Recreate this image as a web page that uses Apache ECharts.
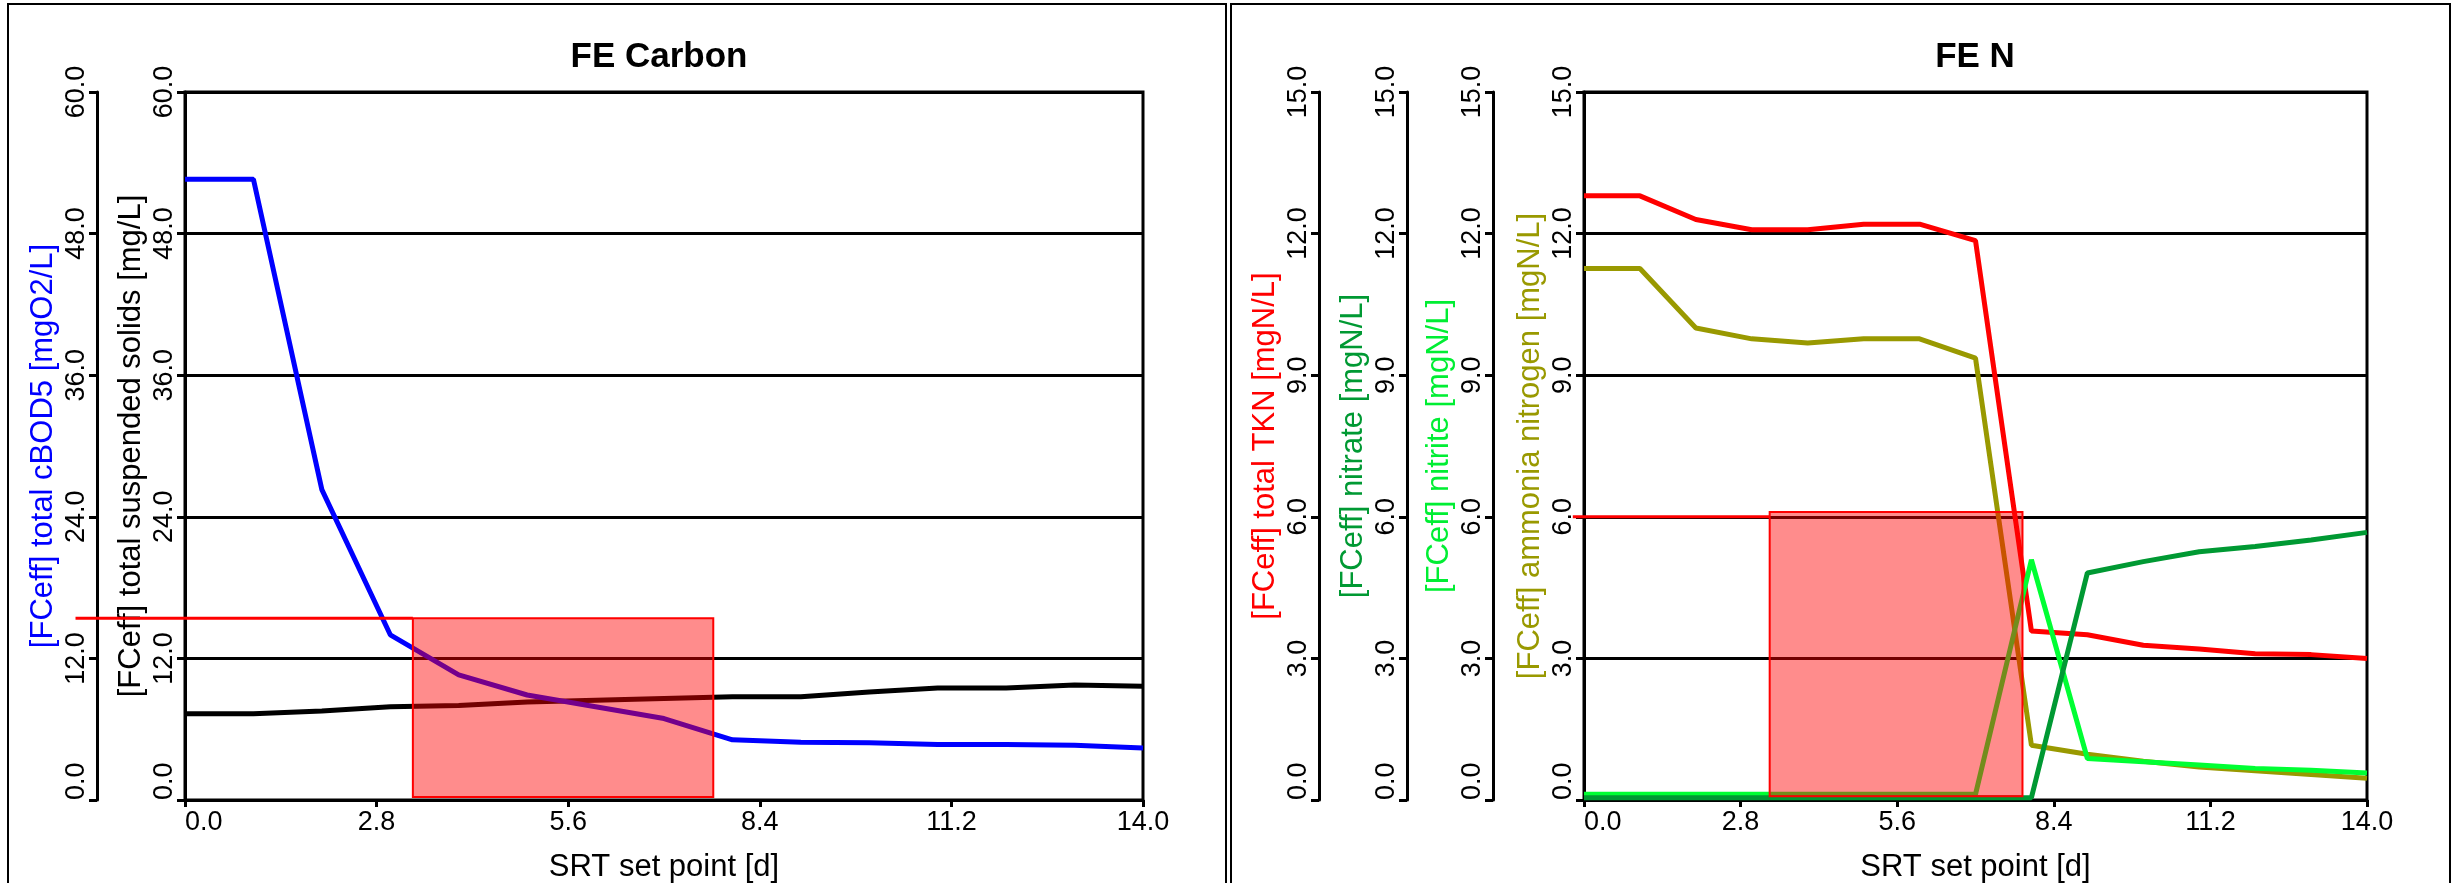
<!DOCTYPE html>
<html><head><meta charset="utf-8">
<script src="https://cdn.jsdelivr.net/npm/echarts@6/dist/echarts.min.js"></script>
<style>html,body{margin:0;padding:0;background:#fff}#c{width:2453px;height:883px}</style>
</head><body><div id="c"></div>
<script>
// ---- data ----
const srt = [0,1,2,3,4,5,6,7,8,9,10,11,12,13,14];
// FE Carbon
const cbod = [52.6,52.6,26.3,14.0,10.6,8.9,7.9,6.9,5.1,4.9,4.85,4.7,4.7,4.65,4.4];
const tss  = [7.3,7.3,7.55,7.9,8.0,8.3,8.45,8.6,8.75,8.75,9.15,9.5,9.5,9.75,9.65];
// FE N
const tkn     = [12.8,12.8,12.3,12.08,12.08,12.2,12.2,11.85,3.58,3.5,3.28,3.2,3.1,3.08,3.0];
const nitrate = [0.05,0.05,0.05,0.05,0.05,0.05,0.05,0.05,0.05,4.81,5.05,5.26,5.37,5.51,5.67];
const nitrite = [0.12,0.12,0.12,0.12,0.12,0.12,0.12,0.12,5.09,0.88,0.81,0.74,0.67,0.63,0.57];
const ammonia = [11.26,11.26,10.0,9.77,9.68,9.77,9.77,9.36,1.16,0.97,0.82,0.7,0.62,0.54,0.46];
// target boxes [x, y] corners and limit lines (start x reaches into the axis area)
const carbonBox = [[3.33,0.25],[7.72,15.4]];
const carbonLimit = [[-1.6,15.4],[3.33,15.4]];
const nBox = [[3.32,0.08],[7.84,6.1]];
const nLimit = [[-0.2,6.0],[3.32,6.0]];
// ticks
const xTicks = [0.0,2.8,5.6,8.4,11.2,14.0];
const carbonTicks = [0,12,24,36,48,60];
const nTicks = [0,3,6,9,12,15];

const pair = (ys) => srt.map((x,i)=>[x, ys[i]]);
const FONT = '"Liberation Sans", Arial, sans-serif';
const fmt = v => Number(v).toFixed(1);

// plot area geometry (pixels)
const PX_PER_X_C = 958/14, PX_PER_X_N = 783/14;

function xAxis(grid){
  return {
    type:'value', gridIndex:grid, min:xTicks[0], max:xTicks[xTicks.length-1],
    interval:xTicks[1]-xTicks[0],
    name:'SRT set point [d]', nameLocation:'middle', nameGap:52,
    nameTextStyle:{fontFamily:FONT,fontSize:31,color:'#000'},
    axisLine:{show:true,onZero:false,lineStyle:{color:'#000',width:3}},
    axisTick:{show:true,length:7,lineStyle:{color:'#000',width:3}},
    axisLabel:{fontFamily:FONT,fontSize:27,color:'#000',margin:9,formatter:fmt,alignMinLabel:'left'},
    splitLine:{show:false}
  };
}
function yAxis(grid, ticks, name, color, offset, split){
  return {
    type:'value', gridIndex:grid, position:'left', offset:offset,
    min:ticks[0], max:ticks[ticks.length-1], interval:ticks[1]-ticks[0],
    name:name, nameLocation:'middle', nameRotate:90, nameGap:38,
    nameTextStyle:{fontFamily:FONT,fontSize:31,color:color},
    axisLine:{show:true,onZero:false,lineStyle:{color:'#000',width:3}},
    axisTick:{show:true,length:8,lineStyle:{color:'#000',width:3}},
    axisLabel:{fontFamily:FONT,fontSize:27,color:'#000',rotate:90,margin:7,formatter:fmt,alignMinLabel:'left'},
    splitLine:{show:split,lineStyle:{color:'#000',width:3}}
  };
}
function hiddenX(grid, min){ return {type:'value', gridIndex:grid, show:false, min:min, max:xTicks[xTicks.length-1], splitLine:{show:false}}; }
function hiddenY(grid, ticks){ return {type:'value', gridIndex:grid, show:false, min:ticks[0], max:ticks[ticks.length-1], splitLine:{show:false}}; }
function line(name, xi, yi, data, color, w){
  return {type:'line', name:name, xAxisIndex:xi, yAxisIndex:yi, data:data, symbol:'none',
    lineStyle:{color:color,width:w||5}, itemStyle:{color:color}, z:3};
}
function limitLine(xi, yi, lineData){
  return {type:'line', xAxisIndex:xi, yAxisIndex:yi, data:lineData, symbol:'none', clip:false, z:8,
    lineStyle:{color:'#ff0000',width:3}, silent:true};
}
function box(xi, yi, b){
  return {type:'line', xAxisIndex:xi, yAxisIndex:yi, data:[], symbol:'none', z:10, silent:true,
    markArea:{silent:true, z:10,
      itemStyle:{color:'rgba(255,0,0,0.45)',borderColor:'#ff0000',borderWidth:2},
      data:[[{coord:b[0]},{coord:b[1]}]]}};
}
function grid(left, right, show){
  return {left:left, right:right, top:92, bottom:83, show:show, borderColor:'#000', borderWidth:3,
    backgroundColor:'transparent', containLabel:false, outerBoundsMode:'none'};
}

const chart = echarts.init(document.getElementById('c'), null, {renderer:'canvas'});
chart.setOption({
  animation:false,
  backgroundColor:'#fff',
  title:[
    {text:'FE Carbon', left:659, top:40, textAlign:'center', padding:0,
     textStyle:{fontFamily:FONT,fontSize:35,fontWeight:'bold',color:'#000'}},
    {text:'FE N', left:1975, top:40, textAlign:'center', padding:0,
     textStyle:{fontFamily:FONT,fontSize:35,fontWeight:'bold',color:'#000'}}
  ],
  graphic:[
    {type:'rect', shape:{x:8,y:4,width:1218,height:900}, style:{fill:null,stroke:'#000',lineWidth:2}, silent:true},
    {type:'rect', shape:{x:1231,y:4,width:1219,height:900}, style:{fill:null,stroke:'#000',lineWidth:2}, silent:true}
  ],
  grid:[
    grid(185, 1310, true),
    grid(1584, 86, true),
    // wider grids sharing the same scales, so the limit lines can reach into the axis area
    grid(185 + carbonLimit[0][0]*PX_PER_X_C, 1310, false),
    grid(1584 + nLimit[0][0]*PX_PER_X_N, 86, false)
  ],
  xAxis:[xAxis(0), xAxis(1), hiddenX(2, carbonLimit[0][0]), hiddenX(3, nLimit[0][0])],
  yAxis:[
    yAxis(0, carbonTicks, '[FCeff] total cBOD5 [mgO2/L]', '#0000ff', 88, false),
    yAxis(0, carbonTicks, '[FCeff] total suspended solids [mg/L]', '#000000', 0, true),
    yAxis(1, nTicks, '[FCeff] total TKN [mgN/L]', '#ff0000', 265, false),
    yAxis(1, nTicks, '[FCeff] nitrate [mgN/L]', '#009933', 177, false),
    yAxis(1, nTicks, '[FCeff] nitrite [mgN/L]', '#00ee33', 91, false),
    yAxis(1, nTicks, '[FCeff] ammonia nitrogen [mgN/L]', '#999900', 0, true),
    hiddenY(2, carbonTicks),
    hiddenY(3, nTicks)
  ],
  series:[
    line('TSS', 0, 1, pair(tss), '#000000'),
    line('cBOD5', 0, 0, pair(cbod), '#0000ff'),
    limitLine(2, 6, carbonLimit),
    box(0, 0, carbonBox),
    line('ammonia', 1, 5, pair(ammonia), '#999900'),
    line('TKN', 1, 2, pair(tkn), '#ff0000'),
    line('nitrite', 1, 4, pair(nitrite), '#00ff33'),
    line('nitrate', 1, 3, pair(nitrate), '#009933'),
    limitLine(3, 7, nLimit),
    box(1, 5, nBox)
  ]
});
</script></body></html>
